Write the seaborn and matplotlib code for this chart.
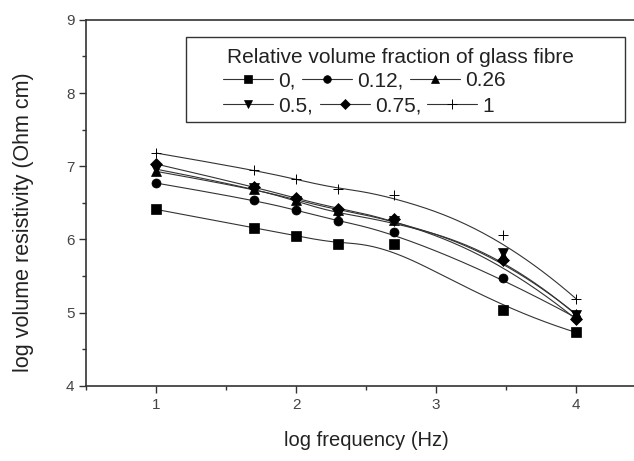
import numpy as np
import pandas as pd
import matplotlib
matplotlib.use("Agg")
import matplotlib.pyplot as plt
import seaborn as sns
from matplotlib.lines import Line2D
from matplotlib.patches import Rectangle
from matplotlib.ticker import MultipleLocator

# ---- data ----
log_freq = [1.0, 1.699, 2.0, 2.301, 2.699, 3.477, 4.0]
fractions = ["0", "0.12", "0.26", "0.5", "0.75", "1"]
res_0 = [6.41, 6.16, 6.05, 5.94, 5.94, 5.04, 4.73]
res_012 = [6.77, 6.54, 6.40, 6.25, 6.10, 5.47, 4.93]
res_026 = [6.93, 6.69, 6.54, 6.40, 6.27, 5.78, 4.98]
res_05 = [6.96, 6.70, 6.52, 6.35, 6.25, 5.82, 4.97]
res_075 = [7.03, 6.72, 6.56, 6.42, 6.28, 5.72, 4.91]
res_1 = [7.18, 6.95, 6.82, 6.69, 6.61, 6.06, 5.19]
series = [res_0, res_012, res_026, res_05, res_075, res_1]
markers = ["s", "o", "^", "v", "D", "+"]
row1_labels = ["0,", "0.12,", "0.26"]
row2_labels = ["0.5,", "0.75,", "1"]
row1_markers = ["s", "o", "^"]
row2_markers = ["v", "D", "+"]

title = "Relative volume fraction of glass fibre"
xlabel = "log frequency (Hz)"
ylabel = "log volume resistivity (Ohm cm)"


def bspline_curve(x, y, num=300, k=3):
    """Clamped cubic B-spline using the data points as control points."""
    P = np.column_stack([x, y]).astype(float)
    n = len(P)
    inner = np.arange(1, n - k)
    knots = np.concatenate([np.zeros(k + 1), inner, np.full(k + 1, n - k)]).astype(float)
    ts = np.linspace(0, n - k, num)
    ts[-1] -= 1e-9
    out = np.zeros((num, 2))
    for j, t in enumerate(ts):
        N = np.array([1.0 if knots[i] <= t < knots[i + 1] else 0.0
                      for i in range(len(knots) - 1)])
        for d in range(1, k + 1):
            Nn = np.zeros(len(knots) - 1 - d)
            for i in range(len(Nn)):
                a = 0.0
                den1 = knots[i + d] - knots[i]
                den2 = knots[i + d + 1] - knots[i + 1]
                if den1 > 0:
                    a += (t - knots[i]) / den1 * N[i]
                if den2 > 0:
                    a += (knots[i + d + 1] - t) / den2 * N[i + 1]
                Nn[i] = a
            N = Nn
        out[j] = N @ P
    return out[:, 0], out[:, 1]


sns.set_theme(style="ticks")
plt.rcParams["font.family"] = ["Liberation Sans", "DejaVu Sans"]

fig = plt.figure(figsize=(6.34, 4.61), dpi=100)
ax = fig.add_axes([0.136, 0.163, 0.883, 0.794])

line_color = "#333333"
for frac, vals, m in zip(fractions, series, markers):
    cx, cy = bspline_curve(log_freq, vals)
    curve = pd.DataFrame({"x": cx, "y": cy})
    sns.lineplot(data=curve, x="x", y="y", ax=ax, color=line_color,
                 linewidth=0.8, sort=False, estimator=None, legend=False)
    pts = pd.DataFrame({"x": log_freq, "y": vals})
    ms = 7.5 if m == "+" else (6 if m == "D" else 6.5)
    sns.lineplot(data=pts, x="x", y="y", ax=ax, color="black", linestyle="",
                 marker=m, markersize=ms, markeredgecolor="black",
                 markerfacecolor="black",
                 markeredgewidth=0.7 if m == "+" else 0.5,
                 sort=False, estimator=None, legend=False)

ax.set_xlim(0.5, 4.5)
ax.set_ylim(4, 9)
ax.xaxis.set_major_locator(MultipleLocator(1))
ax.xaxis.set_minor_locator(MultipleLocator(0.5))
ax.yaxis.set_major_locator(MultipleLocator(1))
ax.yaxis.set_minor_locator(MultipleLocator(0.5))
ax.tick_params(which="major", direction="out", length=5, width=1, colors="#333333",
               labelsize=11, labelcolor="#444444")
ax.tick_params(which="minor", direction="out", length=3, width=1, colors="#333333")
for s in ["left", "bottom", "top", "right"]:
    ax.spines[s].set_color("#333333")
    ax.spines[s].set_linewidth(1.2)
ax.set_xlabel(xlabel, fontsize=14.5, color="#222222", labelpad=14)
ax.set_ylabel(ylabel, fontsize=15.5, color="#222222")
ax.yaxis.set_label_coords(-0.093, 0.448)


def make_handle(m):
    return Line2D([], [], color=line_color, linewidth=0.8, marker=m,
                  markersize=5.5 if m != "+" else 7,
                  markerfacecolor="black", markeredgecolor="black",
                  markeredgewidth=0.7 if m == "+" else 0.5)


# legend frame
ax.add_patch(Rectangle((0.1775, 0.72), 0.785, 0.234, transform=ax.transAxes,
                       facecolor="white", edgecolor="#333333", linewidth=1.0,
                       zorder=4))
ax.text(0.252, 0.898, title, transform=ax.transAxes, fontsize=15,
        color="#222222", ha="left", va="center", zorder=5)

common = dict(ncol=3, loc="center left", frameon=False, fontsize=15,
              handlelength=2.4, handletextpad=0.25, columnspacing=0.3,
              borderpad=0, borderaxespad=0)
leg1 = ax.legend([make_handle(m) for m in row1_markers], row1_labels,
                 bbox_to_anchor=(0.245, 0.834), **common)
leg1.set_zorder(6)
ax.add_artist(leg1)
leg2 = ax.legend([make_handle(m) for m in row2_markers], row2_labels,
                 bbox_to_anchor=(0.245, 0.764), **common)
leg2.set_zorder(6)
for lg in (leg1, leg2):
    for t in lg.get_texts():
        t.set_color("#222222")

fig.savefig("out.png", dpi=100)
